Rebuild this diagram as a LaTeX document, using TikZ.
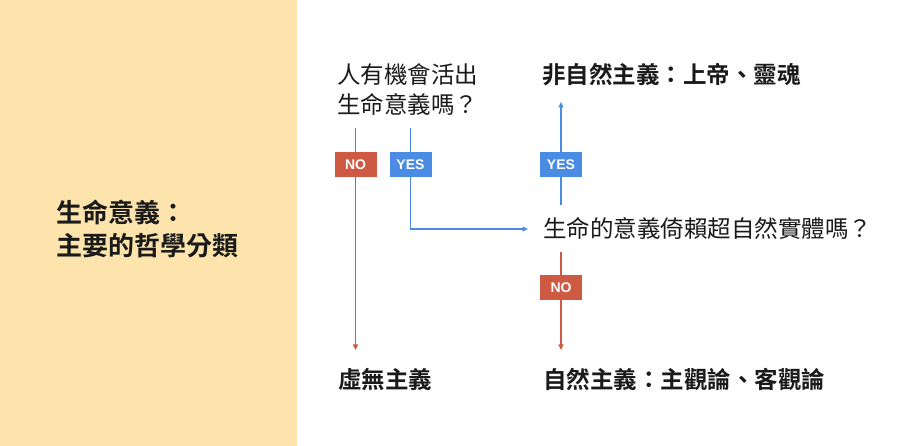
\documentclass[tikz,border=0pt]{standalone}
\usepackage{fontspec}
\setmainfont{Noto Sans CJK TC}[BoldFont={Noto Sans CJK TC Bold}]
\newfontfamily\labelfont{Liberation Sans}
\usetikzlibrary{arrows.meta}
\definecolor{beige}{HTML}{FCE4AC}
\definecolor{nored}{HTML}{CF5A43}
\definecolor{yesblue}{HTML}{4A8CE4}
\definecolor{ink}{HTML}{1A1A1A}
\tikzset{
  bigtext/.style={anchor=west, inner sep=0pt, text=ink, font=\fontsize{23.5}{30}\selectfont},
  boldtext/.style={anchor=west, inner sep=0pt, text=ink, font=\fontsize{23.5}{30}\selectfont\bfseries},
  titletext/.style={anchor=west, inner sep=0pt, text=ink, align=left, font=\fontsize{26}{33}\selectfont\bfseries},
  tag/.style={minimum width=42pt, minimum height=25pt, inner sep=0pt, text=white, font=\labelfont\bfseries\fontsize{14}{16}\selectfont},
  notag/.style={tag, fill=nored},
  yestag/.style={tag, fill=yesblue},
  redline/.style={draw=nored, line width=1.1pt, -{Triangle[length=5.5pt,width=5pt]}},
  blueline/.style={draw=yesblue, line width=1.1pt, -{Triangle[length=5.5pt,width=5pt]}}
}
\begin{document}
\begin{tikzpicture}[x=1pt,y=-1pt]
\useasboundingbox (0,0) rectangle (900,446);
\fill[beige] (0,0) rectangle (297,446);

% texts
\node[titletext] (title) at (56,228.5) {生命意義：\\主要的哲學分類};
\node[bigtext, align=left] (q1) at (337,90) {人有機會活出\\生命意義嗎？};
\node[boldtext] (super) at (542,75) {非自然主義：上帝、靈魂};
\node[bigtext] (q2) at (543,228) {生命的意義倚賴超自然實體嗎？};
\node[boldtext] (nihil) at (338,379) {虛無主義};
\node[boldtext] (natural) at (543,379) {自然主義：主觀論、客觀論};

% connector end points
\coordinate (noStart) at (355.5,128);
\coordinate (noEnd) at (355.5,350);
\coordinate (yesStart) at (410.5,128);
\coordinate (q2in) at (528,229);
\coordinate (upStart) at (561,205);
\coordinate (upEnd) at (561,102);
\coordinate (downStart) at (561,252);
\coordinate (downEnd) at (561,350);

% connectors
\draw[redline] (noStart) -- (noEnd);
\draw[blueline] (yesStart) |- (q2in);
\draw[blueline] (upStart) -- (upEnd);
\draw[redline] (downStart) -- (downEnd);

% tags
\node[notag] (tagNo1) at (355.5,164.5) {NO};
\node[yestag] (tagYes1) at (410.5,164.5) {YES};
\node[yestag] (tagYes2) at (561,164.5) {YES};
\node[notag] (tagNo2) at (561,288) {NO};
\end{tikzpicture}
\end{document}
